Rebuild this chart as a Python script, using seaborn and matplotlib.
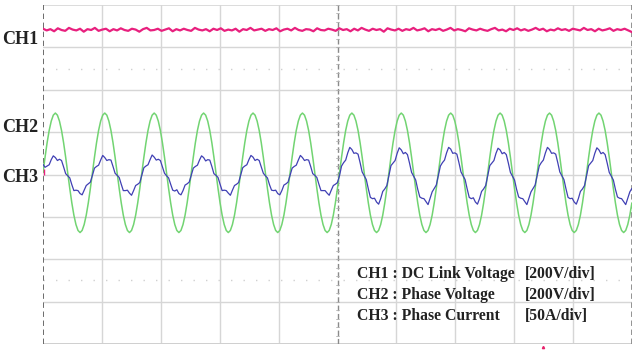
import numpy as np
import pandas as pd
import matplotlib
matplotlib.use("Agg")
import matplotlib.pyplot as plt
import seaborn as sns

# ---------------- data (in screen divisions) ----------------
# CH2 phase voltage, 24 samples per cycle (period 0.839 div)
ch2_voltage = [
    0.04, 0.41, 0.75, 1.04, 1.26, 1.40, 1.45, 1.40, 1.26, 1.04, 0.75, 0.41, 0.04, -0.33, -0.67, -0.96, -1.18, -1.32, -1.37, -1.32, -1.18, -0.96, -0.67, -0.33,
    0.04, 0.41, 0.75, 1.04, 1.26, 1.40, 1.45, 1.40, 1.26, 1.04, 0.75, 0.41, 0.04, -0.33, -0.67, -0.96, -1.18, -1.32, -1.37, -1.32, -1.18, -0.96, -0.67, -0.33,
    0.04, 0.41, 0.75, 1.04, 1.26, 1.40, 1.45, 1.40, 1.26, 1.04, 0.75, 0.41, 0.04, -0.33, -0.67, -0.96, -1.18, -1.32, -1.37, -1.32, -1.18, -0.96, -0.67, -0.33,
    0.04, 0.41, 0.75, 1.04, 1.26, 1.40, 1.45, 1.40, 1.26, 1.04, 0.75, 0.41, 0.04, -0.33, -0.67, -0.96, -1.18, -1.32, -1.37, -1.32, -1.18, -0.96, -0.67, -0.33,
    0.04, 0.41, 0.75, 1.04, 1.26, 1.40, 1.45, 1.40, 1.26, 1.04, 0.75, 0.41, 0.04, -0.33, -0.67, -0.96, -1.18, -1.32, -1.37, -1.32, -1.18, -0.96, -0.67, -0.33,
    0.04, 0.41, 0.75, 1.04, 1.26, 1.40, 1.45, 1.40, 1.26, 1.04, 0.75, 0.41, 0.04, -0.33, -0.67, -0.96, -1.18, -1.32, -1.37, -1.32, -1.18, -0.96, -0.67, -0.33,
    0.04, 0.41, 0.75, 1.04, 1.26, 1.40, 1.45, 1.40, 1.26, 1.04, 0.75, 0.41, 0.04, -0.33, -0.67, -0.96, -1.18, -1.32, -1.37, -1.32, -1.18, -0.96, -0.67, -0.33,
    0.04, 0.41, 0.75, 1.04, 1.26, 1.40, 1.45, 1.40, 1.26, 1.04, 0.75, 0.41, 0.04, -0.33, -0.67, -0.96, -1.18, -1.32, -1.37, -1.32, -1.18, -0.96, -0.67, -0.33,
    0.04, 0.41, 0.75, 1.04, 1.26, 1.40, 1.45, 1.40, 1.26, 1.04, 0.75, 0.41, 0.04, -0.33, -0.67, -0.96, -1.18, -1.32, -1.37, -1.32, -1.18, -0.96, -0.67, -0.33,
    0.04, 0.41, 0.75, 1.04, 1.26, 1.40, 1.45, 1.40, 1.26, 1.04, 0.75, 0.41, 0.04, -0.33, -0.67, -0.96, -1.18, -1.32, -1.37, -1.32, -1.18, -0.96, -0.67, -0.33,
    0.04, 0.41, 0.75, 1.04, 1.26, 1.40, 1.45, 1.40, 1.26, 1.04, 0.75, 0.41, 0.04, -0.33, -0.67, -0.96, -1.18, -1.32, -1.37, -1.32, -1.18, -0.96, -0.67, -0.33,
    0.04, 0.41, 0.75, 1.04, 1.26, 1.40, 1.45, 1.40, 1.26, 1.04, 0.75, 0.41, 0.04, -0.33, -0.67, -0.96, -1.18, -1.32, -1.37, -1.32, -1.18, -0.96, -0.67,
]

# CH3 phase current, same sampling; smaller before centre, larger after
ch3_current = [
    0.24, 0.17, 0.20, 0.23, 0.35, 0.44, 0.40, 0.33, 0.36, 0.33, 0.18, 0.02, -0.03, -0.08, -0.24, -0.38, -0.37, -0.38, -0.45, -0.48, -0.37, -0.26, -0.22, -0.18,
    -0.02, 0.15, 0.19, 0.22, 0.34, 0.45, 0.40, 0.33, 0.35, 0.34, 0.19, 0.03, -0.02, -0.07, -0.23, -0.38, -0.38, -0.37, -0.44, -0.49, -0.38, -0.26, -0.23, -0.19,
    -0.01, 0.16, 0.20, 0.23, 0.35, 0.46, 0.41, 0.34, 0.36, 0.33, 0.18, 0.03, -0.03, -0.08, -0.23, -0.37, -0.39, -0.36, -0.45, -0.48, -0.38, -0.25, -0.22, -0.18,
    -0.02, 0.15, 0.19, 0.22, 0.34, 0.44, 0.40, 0.32, 0.35, 0.34, 0.19, 0.02, -0.02, -0.07, -0.23, -0.38, -0.37, -0.38, -0.44, -0.49, -0.37, -0.26, -0.23, -0.19,
    -0.01, 0.16, 0.20, 0.23, 0.35, 0.45, 0.41, 0.33, 0.36, 0.33, 0.18, 0.03, -0.03, -0.08, -0.24, -0.37, -0.38, -0.37, -0.45, -0.48, -0.38, -0.25, -0.22, -0.18,
    -0.02, 0.15, 0.19, 0.22, 0.34, 0.45, 0.40, 0.33, 0.35, 0.34, 0.19, 0.02, -0.02, -0.07, -0.23, -0.38, -0.38, -0.38, -0.44, -0.49, -0.37, -0.26, -0.23, -0.19,
    -0.03, 0.20, 0.28, 0.34, 0.51, 0.64, 0.59, 0.50, 0.51, 0.48, 0.28, 0.06, -0.03, -0.12, -0.34, -0.54, -0.57, -0.56, -0.65, -0.70, -0.57, -0.40, -0.34, -0.26,
    -0.02, 0.21, 0.27, 0.33, 0.50, 0.63, 0.58, 0.49, 0.52, 0.47, 0.27, 0.05, -0.04, -0.13, -0.35, -0.53, -0.56, -0.57, -0.64, -0.71, -0.56, -0.41, -0.33, -0.25,
    -0.03, 0.20, 0.28, 0.34, 0.51, 0.64, 0.60, 0.50, 0.51, 0.48, 0.28, 0.06, -0.03, -0.12, -0.34, -0.54, -0.57, -0.55, -0.65, -0.70, -0.57, -0.40, -0.34, -0.26,
    -0.02, 0.21, 0.27, 0.33, 0.50, 0.62, 0.58, 0.49, 0.52, 0.47, 0.27, 0.05, -0.04, -0.13, -0.35, -0.53, -0.56, -0.57, -0.64, -0.71, -0.56, -0.41, -0.33, -0.25,
    -0.03, 0.20, 0.28, 0.34, 0.51, 0.64, 0.59, 0.50, 0.51, 0.48, 0.28, 0.06, -0.03, -0.12, -0.34, -0.54, -0.57, -0.56, -0.65, -0.70, -0.57, -0.40, -0.34, -0.26,
    -0.02, 0.21, 0.27, 0.33, 0.50, 0.63, 0.58, 0.49, 0.52, 0.47, 0.27, 0.05, -0.04, -0.13, -0.35, -0.53, -0.56, -0.57, -0.64, -0.71, -0.56, -0.41, -0.33,
]

# CH1 DC link voltage (noisy flat trace)
ch1_dc_link = [
    3.44, 3.40, 3.43, 3.38, 3.45, 3.41, 3.39, 3.46, 3.42, 3.40, 3.44, 3.37, 3.43, 3.41, 3.46, 3.39, 3.42, 3.44, 3.38, 3.43,
    3.40, 3.45, 3.41, 3.39, 3.44, 3.42, 3.37, 3.43, 3.46, 3.40, 3.41, 3.44, 3.39, 3.42, 3.45, 3.38, 3.43, 3.40, 3.44, 3.41,
    3.39, 3.46, 3.42, 3.40, 3.43, 3.38, 3.44, 3.41, 3.45, 3.39, 3.42, 3.40, 3.44, 3.37, 3.43, 3.41, 3.46, 3.40, 3.42, 3.44,
    3.39, 3.43, 3.41, 3.45, 3.38, 3.42, 3.44, 3.40, 3.46, 3.41, 3.39, 3.43, 3.42, 3.38, 3.45, 3.41, 3.40, 3.44, 3.42, 3.39,
    3.45, 3.41, 3.43, 3.38, 3.44, 3.40, 3.46, 3.42, 3.39, 3.44, 3.41, 3.43, 3.37, 3.45, 3.42, 3.40, 3.44, 3.39, 3.43, 3.41,
    3.46, 3.40, 3.42, 3.45, 3.38, 3.43, 3.41, 3.44, 3.39, 3.42, 3.46, 3.40, 3.43, 3.41, 3.38, 3.45, 3.42, 3.40, 3.44, 3.41,
    3.39, 3.43, 3.46, 3.40, 3.42, 3.38, 3.44, 3.41, 3.45, 3.40, 3.43, 3.39, 3.42, 3.46, 3.41, 3.44, 3.38, 3.42, 3.40, 3.45,
    3.41, 3.43, 3.39, 3.44, 3.42, 3.40, 3.46, 3.41, 3.43, 3.38, 3.44, 3.40, 3.42, 3.45, 3.39, 3.43, 3.41, 3.44, 3.40, 3.36,
]

channel_labels = ["CH1", "CH2", "CH3"]
legend_names = ["CH1 : DC Link Voltage", "CH2 : Phase Voltage", "CH3 : Phase Current"]
legend_scales = ["[200V/div]", "[200V/div]", "[50A/div]"]

period_div = 0.839
dt = period_div / 24

# ---------------- figure ----------------
sns.set_style("white")
plt.rcParams["font.family"] = ["Liberation Serif", "DejaVu Serif"]

W, H = 641, 352
fig = plt.figure(figsize=(W / 100, H / 100), dpi=100)
ax = fig.add_axes([43 / W, 8 / H, 589 / W, 339 / H])
ax.set_xlim(0, 10)
ax.set_ylim(-4, 4)
for s in ax.spines.values():
    s.set_visible(False)
ax.set_xticks([])
ax.set_yticks([])

grid_c = "#d6d6d6"
for x in range(1, 10):
    if x == 5:
        continue
    ax.axvline(x, color=grid_c, lw=1.0, zorder=0)
for y in range(-3, 4):
    ax.axhline(y, color=grid_c, lw=1.0, zorder=0)
ax.axhline(4, color=grid_c, lw=1.2, zorder=0)
ax.axhline(-4, color="#cfcfcf", lw=1.4, zorder=0)
for y in (2.5, -2.5):
    ax.axhline(y, color="#d0d0d0", lw=1.0, ls=(0, (1, 8)), zorder=0)
# centre vertical dashed with minor ticks
ax.axvline(5, color="#8a8a8a", lw=1.0, ls=(0, (4, 2)), zorder=0.5)
for yy in np.arange(-4, 4.01, 0.2):
    ax.plot([4.97, 5.03], [yy, yy], color="#b0b0b0", lw=0.6, zorder=0.5)
# borders
ax.axvline(0, color="#606060", lw=1.3, ls=(0, (3, 2)), zorder=0.5)
ax.axvline(10, color="#8a8a8a", lw=1.3, ls=(0, (3, 2)), zorder=0.5)

t_wave = np.arange(len(ch2_voltage)) * dt
t_cur = np.arange(len(ch3_current)) * dt
t_dc = np.linspace(0, 10, len(ch1_dc_link))

df2 = pd.DataFrame({"t": t_wave, "v": ch2_voltage})
df3 = pd.DataFrame({"t": t_cur, "v": ch3_current})
df1 = pd.DataFrame({"t": t_dc, "v": ch1_dc_link})

sns.lineplot(data=df2, x="t", y="v", ax=ax, color="#72d472", lw=1.1,
             estimator=None, sort=False, zorder=2)
sns.lineplot(data=df3, x="t", y="v", ax=ax, color="#4040b4", lw=0.9,
             estimator=None, sort=False, zorder=3)
sns.lineplot(data=df1, x="t", y="v", ax=ax, color="#e8207e", lw=1.6,
             estimator=None, sort=False, zorder=3)
ax.set_xlabel("")
ax.set_ylabel("")
ax.set_xlim(0, 10)
ax.set_ylim(-4, 4)

# small markers
ax.plot([0.02], [0.05], marker="|", color="#e8207e", ms=5, clip_on=False, zorder=4)
ax.plot([8.49], [-4.06], marker="^", color="#e8206a", ms=1.6, clip_on=False, zorder=4)

# channel labels
for lab, py in zip(channel_labels, [39, 127, 177]):
    fig.text(2 / W, 1 - py / H, lab, fontsize=13, fontweight="bold",
             color="#222222", va="center", ha="left")

# legend text
for name, scale, py in zip(legend_names, legend_scales, [274, 295, 316]):
    fig.text(357 / W, 1 - py / H, name, fontsize=11.3, fontweight="bold",
             color="#222222", va="center", ha="left")
    fig.text(525 / W, 1 - py / H, scale, fontsize=11.3, fontweight="bold",
             color="#222222", va="center", ha="left")

fig.savefig("out.png", dpi=100, facecolor="white")
